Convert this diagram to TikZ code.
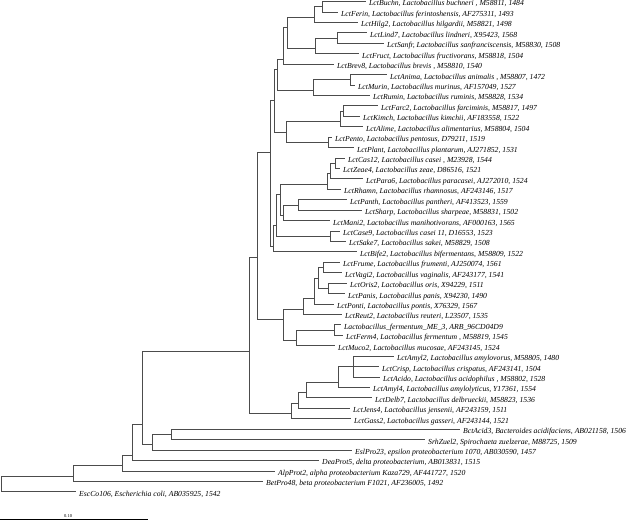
\documentclass[tikz,border=0pt]{standalone}
\usepackage{fontspec}
\setmainfont{Liberation Serif}
\tikzset{
  branch/.style={draw=black!70, line width=0.7pt},
  leaf/.style={anchor=west, inner xsep=3pt, inner ysep=0pt, text height=9pt, text depth=0pt,
    font=\fontsize{7.7}{9}\selectfont\itshape},
}
\begin{document}
\begin{tikzpicture}[x=1pt, y=-10.43pt]
    \useasboundingbox (0,0.856) rectangle (628,51.09);
    % leaves
    \node[leaf] (buchn) at (366,1) {LctBuchn, Lactobacillus buchneri , M58811, 1484};
    \node[leaf] (ferin) at (338,2) {LctFerin, Lactobacillus ferintoshensis, AF275311, 1493};
    \node[leaf] (hilg) at (358,3) {LctHilg2, Lactobacillus hilgardii, M58821, 1498};
    \node[leaf] (lind) at (367,4) {LctLind7, Lactobacillus lindneri, X95423, 1568};
    \node[leaf] (sanfr) at (384,5) {LctSanfr, Lactobacillus sanfranciscensis, M58830, 1508};
    \node[leaf] (fruct) at (359,6) {LctFruct, Lactobacillus fructivorans, M58818, 1504};
    \node[leaf] (brev) at (334,7) {LctBrev8, Lactobacillus brevis , M58810, 1540};
    \node[leaf] (anima) at (387,8) {LctAnima, Lactobacillus animalis , M58807, 1472};
    \node[leaf] (murin) at (355,9) {LctMurin, Lactobacillus murinus, AF157049, 1527};
    \node[leaf] (rumin) at (370,10) {LctRumin, Lactobacillus ruminis, M58828, 1534};
    \node[leaf] (farc) at (378,11) {LctFarc2, Lactobacillus farciminis, M58817, 1497};
    \node[leaf] (kimch) at (360,12) {LctKimch, Lactobacillus kimchii, AF183558, 1522};
    \node[leaf] (alime) at (363,13) {LctAlime, Lactobacillus alimentarius, M58804, 1504};
    \node[leaf] (pento) at (332,14) {LctPento, Lactobacillus pentosus, D79211, 1519};
    \node[leaf] (plant) at (354,15) {LctPlant, Lactobacillus plantarum, AJ271852, 1531};
    \node[leaf] (cas) at (345,16) {LctCas12, Lactobacillus casei , M23928, 1544};
    \node[leaf] (zeae) at (340,17) {LctZeae4, Lactobacillus zeae, D86516, 1521};
    \node[leaf] (para) at (363,18) {LctPara6, Lactobacillus paracasei, AJ272010, 1524};
    \node[leaf] (rhamn) at (341,19) {LctRhamn, Lactobacillus rhamnosus, AF243146, 1517};
    \node[leaf] (panth) at (347,20) {LctPanth, Lactobacillus pantheri, AF413523, 1559};
    \node[leaf] (sharp) at (362,21) {LctSharp, Lactobacillus sharpeae, M58831, 1502};
    \node[leaf] (mani) at (330,22) {LctMani2, Lactobacillus manihotivorans, AF000163, 1565};
    \node[leaf] (case) at (340,23) {LctCase9, Lactobacillus casei 11, D16553, 1523};
    \node[leaf] (sake) at (346,24) {LctSake7, Lactobacillus sakei, M58829, 1508};
    \node[leaf] (bife) at (357,25) {LctBife2, Lactobacillus bifermentans, M58809, 1522};
    \node[leaf] (frume) at (340,26) {LctFrume, Lactobacillus frumenti, AJ250074, 1561};
    \node[leaf] (vagi) at (342,27) {LctVagi2, Lactobacillus vaginalis, AF243177, 1541};
    \node[leaf] (oris) at (347,28) {LctOris2, Lactobacillus oris, X94229, 1511};
    \node[leaf] (panis) at (345,29) {LctPanis, Lactobacillus panis, X94230, 1490};
    \node[leaf] (ponti) at (334,30) {LctPonti, Lactobacillus pontis, X76329, 1567};
    \node[leaf] (reut) at (342,31) {LctReut2, Lactobacillus reuteri, L23507, 1535};
    \node[leaf] (me3) at (341,32) {Lactobacillus\_fermentum\_ME\_3, ARB\_96CD04D9};
    \node[leaf] (ferm) at (343,33) {LctFerm4, Lactobacillus fermentum , M58819, 1545};
    \node[leaf] (muco) at (335,34) {LctMuco2, Lactobacillus mucosae, AF243145, 1524};
    \node[leaf] (amylb) at (394,35) {LctAmyl2, Lactobacillus amylovorus, M58805, 1480};
    \node[leaf] (crisp) at (379,36) {LctCrisp, Lactobacillus crispatus, AF243141, 1504};
    \node[leaf] (acido) at (380,37) {LctAcido, Lactobacillus acidophilus , M58802, 1528};
    \node[leaf] (amyld) at (370,38) {LctAmyl4, Lactobacillus amylolyticus, Y17361, 1554};
    \node[leaf] (delb) at (372,39) {LctDelb7, Lactobacillus delbrueckii, M58823, 1536};
    \node[leaf] (jens) at (350,40) {LctJens4, Lactobacillus jensenii, AF243159, 1511};
    \node[leaf] (gass) at (351,41) {LctGass2, Lactobacillus gasseri, AF243144, 1521};
    \node[leaf] (bct) at (460,42) {BctAcid3, Bacteroides acidifaciens, AB021158, 1506};
    \node[leaf] (srh) at (425,43) {SrhZuel2, Spirochaeta zuelzerae, M88725, 1509};
    \node[leaf] (esl) at (352,44) {EslPro23, epsilon proteobacterium 1070, AB030590, 1457};
    \node[leaf] (dea) at (319,45) {DeaProt5, delta proteobacterium, AB013831, 1515};
    \node[leaf] (alp) at (275,46) {AlpProt2, alpha proteobacterium Kaza729, AF441727, 1520};
    \node[leaf] (bet) at (263,47) {BetPro48, beta proteobacterium F1021, AF236005, 1492};
    \node[leaf] (esc) at (76,48) {EscCo106, Escherichia coli, AB035925, 1542};
    % inner nodes
    \coordinate (a1) at (322,1.5);
    \coordinate (a2) at (314,2.5);
    \coordinate (a3) at (337,4.5);
    \coordinate (a4) at (315,5.5);
    \coordinate (a5) at (287,3.5);
    \coordinate (a6) at (283,6.5);
    \coordinate (b1) at (350,8.5);
    \coordinate (b2) at (313,9.5);
    \coordinate (a7) at (277,7.5);
    \coordinate (c1) at (343,11.5);
    \coordinate (c2) at (340,12.5);
    \coordinate (c3) at (328,14.5);
    \coordinate (c4) at (286,13.5);
    \coordinate (k1) at (274,10.5);
    \coordinate (d1) at (335,16.5);
    \coordinate (d2) at (330,17.5);
    \coordinate (d3) at (327,18.5);
    \coordinate (d4) at (298,20.5);
    \coordinate (d5) at (283,21.5);
    \coordinate (d6) at (280,19.5);
    \coordinate (d7) at (330,23.5);
    \coordinate (d8) at (276,22.5);
    \coordinate (d9) at (273,24.5);
    \coordinate (k2) at (270,15.5);
    \coordinate (e1) at (323,26.5);
    \coordinate (e2) at (328,28.5);
    \coordinate (e3) at (318,27.5);
    \coordinate (e4) at (314,29.5);
    \coordinate (e5) at (303,30.5);
    \coordinate (e6) at (334,32.5);
    \coordinate (e7) at (296,33.5);
    \coordinate (e8) at (283,31.5);
    \coordinate (k3) at (257,25.5);
    \coordinate (f1) at (353,36);
    \coordinate (f2) at (338,37.5);
    \coordinate (f3) at (306,38.5);
    \coordinate (f4) at (298,39.5);
    \coordinate (f5) at (291,40.5);
    \coordinate (k4) at (249,34.5);
    \coordinate (o1) at (171,42.5);
    \coordinate (o2) at (152,43.5);
    \coordinate (o3) at (142,41.5);
    \coordinate (o4) at (132,44.5);
    \coordinate (o5) at (122,45.5);
    \coordinate (o6) at (73,46.5);
    \coordinate (root) at (1,47.5);
    % branches
    \draw[branch] (a1) |- (buchn.west);
    \draw[branch] (a1) |- (ferin.west);
    \draw[branch] (a2) |- (a1);
    \draw[branch] (a2) |- (hilg.west);
    \draw[branch] (a3) |- (lind.west);
    \draw[branch] (a3) |- (sanfr.west);
    \draw[branch] (a4) |- (a3);
    \draw[branch] (a4) |- (fruct.west);
    \draw[branch] (a5) |- (a2);
    \draw[branch] (a5) |- (a4);
    \draw[branch] (a6) |- (a5);
    \draw[branch] (a6) |- (brev.west);
    \draw[branch] (b1) |- (anima.west);
    \draw[branch] (b1) |- (murin.west);
    \draw[branch] (b2) |- (b1);
    \draw[branch] (b2) |- (rumin.west);
    \draw[branch] (a7) |- (a6);
    \draw[branch] (a7) |- (b2);
    \draw[branch] (c1) |- (farc.west);
    \draw[branch] (c1) |- (kimch.west);
    \draw[branch] (c2) |- (c1);
    \draw[branch] (c2) |- (alime.west);
    \draw[branch] (c3) |- (pento.west);
    \draw[branch] (c3) |- (plant.west);
    \draw[branch] (c4) |- (c2);
    \draw[branch] (c4) |- (c3);
    \draw[branch] (k1) |- (a7);
    \draw[branch] (k1) |- (c4);
    \draw[branch] (d1) |- (cas.west);
    \draw[branch] (d1) |- (zeae.west);
    \draw[branch] (d2) |- (d1);
    \draw[branch] (d2) |- (para.west);
    \draw[branch] (d3) |- (d2);
    \draw[branch] (d3) |- (rhamn.west);
    \draw[branch] (d4) |- (panth.west);
    \draw[branch] (d4) |- (sharp.west);
    \draw[branch] (d5) |- (d4);
    \draw[branch] (d5) |- (mani.west);
    \draw[branch] (d6) |- (d3);
    \draw[branch] (d6) |- (d5);
    \draw[branch] (d7) |- (case.west);
    \draw[branch] (d7) |- (sake.west);
    \draw[branch] (d8) |- (d6);
    \draw[branch] (d8) |- (d7);
    \draw[branch] (d9) |- (d8);
    \draw[branch] (d9) |- (bife.west);
    \draw[branch] (k2) |- (k1);
    \draw[branch] (k2) |- (d9);
    \draw[branch] (e1) |- (frume.west);
    \draw[branch] (e1) |- (vagi.west);
    \draw[branch] (e2) |- (oris.west);
    \draw[branch] (e2) |- (panis.west);
    \draw[branch] (e3) |- (e1);
    \draw[branch] (e3) |- (e2);
    \draw[branch] (e4) |- (e3);
    \draw[branch] (e4) |- (ponti.west);
    \draw[branch] (e5) |- (e4);
    \draw[branch] (e5) |- (reut.west);
    \draw[branch] (e6) |- (me3.west);
    \draw[branch] (e6) |- (ferm.west);
    \draw[branch] (e7) |- (e6);
    \draw[branch] (e7) |- (muco.west);
    \draw[branch] (e8) |- (e5);
    \draw[branch] (e8) |- (e7);
    \draw[branch] (k3) |- (k2);
    \draw[branch] (k3) |- (e8);
    \draw[branch] (f1) |- (amylb.west);
    \draw[branch] (f1) |- (crisp.west);
    \draw[branch] (f1) |- (acido.west);
    \draw[branch] (f2) |- (f1);
    \draw[branch] (f2) |- (amyld.west);
    \draw[branch] (f3) |- (f2);
    \draw[branch] (f3) |- (delb.west);
    \draw[branch] (f4) |- (f3);
    \draw[branch] (f4) |- (jens.west);
    \draw[branch] (f5) |- (f4);
    \draw[branch] (f5) |- (gass.west);
    \draw[branch] (k4) |- (k3);
    \draw[branch] (k4) |- (f5);
    \draw[branch] (o1) |- (bct.west);
    \draw[branch] (o1) |- (srh.west);
    \draw[branch] (o2) |- (o1);
    \draw[branch] (o2) |- (esl.west);
    \draw[branch] (o3) |- (k4);
    \draw[branch] (o3) |- (o2);
    \draw[branch] (o4) |- (o3);
    \draw[branch] (o4) |- (dea.west);
    \draw[branch] (o5) |- (o4);
    \draw[branch] (o5) |- (alp.west);
    \draw[branch] (o6) |- (o5);
    \draw[branch] (o6) |- (bet.west);
    \draw[branch] (root) |- (o6);
    \draw[branch] (root) |- (esc.west);
    % scale bar
    \coordinate (bar0) at (0,50.62);
    \coordinate (bar1) at (148,50.62);
    \draw[line width=0.7pt] (bar0) -- (bar1)
        node[pos=0.46, above, inner sep=1pt, font=\fontsize{4.5}{5}\selectfont] (barlbl) {0.10};
\end{tikzpicture}
\end{document}
